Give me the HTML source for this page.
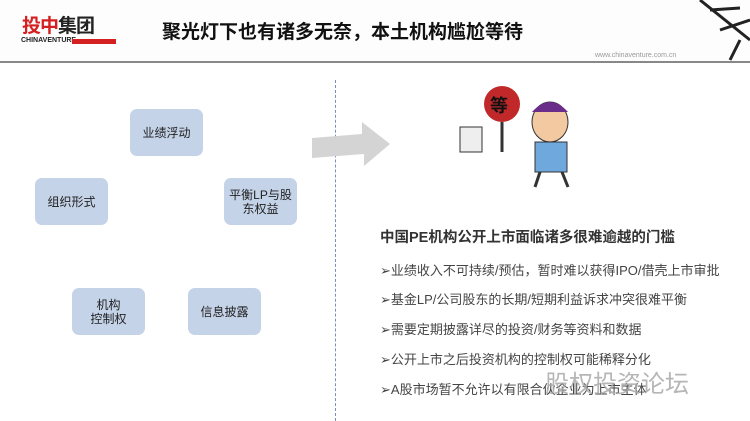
<!DOCTYPE html>
<html><head><meta charset="utf-8"><style>
body{margin:0;width:750px;height:421px;background:#fff;position:relative;overflow:hidden;font-family:"Liberation Sans","Noto Sans CJK SC",sans-serif;}
.b{position:absolute;background:#c4d3e8;border-radius:7px;display:flex;align-items:center;justify-content:center;text-align:center;font-size:12px;line-height:14px;color:#222;width:73px;height:47px;}
.t{position:absolute;left:380px;font-size:13px;color:#444;white-space:nowrap;}
</style></head><body>
<div style="position:absolute;left:0;top:0;width:750px;height:62px;background:#fdfdfd"></div>
<div style="position:absolute;left:22px;top:11px;font-size:19px;font-weight:bold;color:#d42020;letter-spacing:-1px">投中<span style="color:#222">集团</span></div>
<div style="position:absolute;left:21px;top:37px;font-size:7px;font-weight:bold;color:#222">CHINAVENTURE</div>
<div style="position:absolute;left:72px;top:39px;width:44px;height:5px;background:#d42020"></div>
<div style="position:absolute;left:162px;top:17px;font-size:19px;font-weight:bold;color:#111">聚光灯下也有诸多无奈，本土机构尴尬等待</div>
<div style="position:absolute;left:595px;top:52px;font-size:7px;color:#999">www.chinaventure.com.cn</div>
<svg style="position:absolute;left:640px;top:0" width="110" height="70"><path d="M60 0 L110 40 M70 10 L100 8 M80 30 L110 20 M100 40 L90 60" stroke="#222" stroke-width="3" fill="none"/></svg>
<div style="position:absolute;left:0;top:61px;width:750px;height:2px;background:#888"></div>
<div style="position:absolute;left:335px;top:80px;height:341px;border-left:1px dashed #7a8fc0"></div>
<div class="b" style="left:130px;top:109px">业绩浮动</div>
<div class="b" style="left:35px;top:178px">组织形式</div>
<div class="b" style="left:224px;top:178px">平衡LP与股<br>东权益</div>
<div class="b" style="left:72px;top:288px">机构<br>控制权</div>
<div class="b" style="left:188px;top:288px">信息披露</div>
<svg style="position:absolute;left:310px;top:118px" width="85" height="55"><polygon points="2,20 52,16 52,4 80,26 54,48 54,36 2,40" fill="#d4d4d4"/></svg>
<svg style="position:absolute;left:450px;top:82px" width="160" height="110">
<circle cx="52" cy="22" r="18" fill="#c0282a"/><text x="40" y="30" font-size="18" font-weight="bold" fill="#111" font-family="Noto Sans CJK SC">等</text>
<line x1="52" y1="40" x2="52" y2="70" stroke="#333" stroke-width="3"/>
<rect x="10" y="45" width="22" height="25" fill="#eee" stroke="#333"/>
<ellipse cx="100" cy="40" rx="18" ry="20" fill="#f2c9a0" stroke="#333"/>
<path d="M82 30 Q100 10 118 30" fill="#6a2d8a"/>
<rect x="85" y="60" width="32" height="30" fill="#6fa8dc" stroke="#333"/>
<line x1="90" y1="90" x2="85" y2="105" stroke="#333" stroke-width="3"/><line x1="112" y1="90" x2="118" y2="105" stroke="#333" stroke-width="3"/>
</svg>
<div style="position:absolute;left:380px;top:226px;font-size:14.5px;font-weight:bold;color:#333">中国PE机构公开上市面临诸多很难逾越的门槛</div>
<div class="t" style="top:260px">➢业绩收入不可持续/预估，暂时难以获得IPO/借壳上市审批</div>
<div class="t" style="top:289px">➢基金LP/公司股东的长期/短期利益诉求冲突很难平衡</div>
<div class="t" style="top:319px">➢需要定期披露详尽的投资/财务等资料和数据</div>
<div class="t" style="top:349px">➢公开上市之后投资机构的控制权可能稀释分化</div>
<div class="t" style="top:379px">➢A股市场暂不允许以有限合伙企业为上市主体</div>
<div style="position:absolute;left:545px;top:364px;font-size:24px;color:#aaa;opacity:.85">股权投资论坛</div>
</body></html>
